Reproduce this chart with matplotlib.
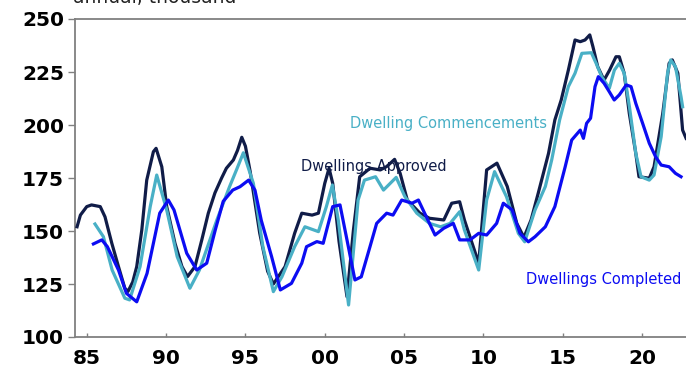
import matplotlib
matplotlib.use("Agg")
import matplotlib.pyplot as plt

# annual dwelling activity, thousand (year, value)
approved_years = [1984.39, 1984.6, 1985.0, 1985.3, 1985.85, 1986.15, 1986.58, 1987.0, 1987.4, 1987.6,
                  1987.9, 1988.15, 1988.47, 1988.78, 1989.2, 1989.37, 1989.73, 1990.04, 1990.56, 1991.0,
                  1991.35, 1991.82, 1992.25, 1992.66, 1993.08, 1993.5, 1993.8, 1994.24, 1994.5, 1994.77,
                  1995.0, 1995.3, 1995.9, 1996.4, 1996.76, 1997.5, 1998.1, 1998.55, 1999.2, 1999.6,
                  2000.0, 2000.27, 2000.5, 2000.9, 2001.4, 2001.8, 2002.2, 2002.85, 2003.5, 2003.9,
                  2004.4, 2004.75, 2005.2, 2006.0, 2006.6, 2007.5, 2008.0, 2008.5, 2008.8, 2009.7,
                  2010.2, 2010.85, 2011.5, 2012.1, 2012.55, 2013.0, 2013.45, 2014.1, 2014.5, 2014.9,
                  2015.35, 2015.77, 2016.1, 2016.4, 2016.7, 2016.9, 2017.2, 2017.6, 2017.95, 2018.35,
                  2018.56, 2018.87, 2019.19, 2019.6, 2019.8, 2020.45, 2020.75, 2021.3, 2021.7, 2021.9,
                  2022.25, 2022.55, 2022.77]
approved = [152.0, 157.5, 161.5, 162.3, 161.5, 156.7, 144.2, 133.2, 123.0, 121.5,
            126.0, 133.2, 150.5, 174.0, 187.4, 189.0, 180.3, 161.5, 144.2, 133.2,
            128.5, 133.2, 145.8, 158.4, 168.0, 175.0, 179.6, 183.5, 188.0, 194.2,
            190.0, 178.0, 149.0, 131.0, 125.0, 133.2, 148.9, 158.4, 157.5, 158.4,
            172.5, 179.6, 172.5, 145.0, 119.0, 150.0, 175.6, 179.6, 178.8, 180.4,
            183.8, 177.2, 164.6, 158.4, 156.0, 155.2, 163.1, 163.8, 155.2, 134.8,
            178.8, 182.0, 171.0, 153.6, 147.0, 155.2, 167.8, 186.6, 202.4, 211.8,
            225.9, 240.1, 239.3, 240.1, 242.5, 236.9, 227.5, 221.2, 225.9, 232.2,
            232.2, 224.4, 205.5, 186.6, 175.6, 174.9, 180.3, 205.5, 229.1, 230.7,
            224.4, 197.6, 193.7]

commence_years = [1985.52, 1986.05, 1986.6, 1987.4, 1987.7, 1988.36, 1989.0, 1989.41, 1990.04, 1990.7,
                  1991.5, 1992.1, 1993.2, 1994.0, 1994.5, 1994.87, 1995.5, 1996.1, 1996.76, 1997.3,
                  1998.1, 1998.75, 1999.6, 2000.1, 2000.48, 2000.85, 2001.5, 2002.1, 2002.5, 2003.2,
                  2003.7, 2004.5, 2005.05, 2005.8, 2006.6, 2007.3, 2007.9, 2008.5, 2008.8, 2009.7,
                  2010.2, 2010.7, 2011.45, 2012.2, 2012.6, 2013.25, 2013.9, 2014.3, 2014.8, 2015.35,
                  2015.77, 2016.2, 2016.8, 2017.1, 2017.45, 2017.93, 2018.25, 2018.56, 2018.87, 2019.2,
                  2019.6, 2019.93, 2020.45, 2020.75, 2021.2, 2021.6, 2021.8, 2022.1, 2022.45, 2022.55]
commence = [153.3, 147.3, 131.6, 118.3, 117.5, 133.2, 161.5, 176.4, 159.9, 137.9,
            123.0, 131.6, 155.2, 170.9, 180.0, 186.9, 172.5, 142.6, 121.4, 128.4,
            142.6, 152.0, 149.7, 161.5, 171.7, 155.2, 115.1, 164.6, 174.0, 175.6,
            169.3, 175.3, 166.2, 158.4, 153.6, 152.0, 153.6, 159.1, 150.5, 131.6,
            164.6, 178.0, 166.2, 148.9, 144.9, 159.9, 171.0, 183.5, 202.4, 218.1,
            224.4, 233.8, 234.1, 229.1, 222.8, 217.3, 225.9, 229.1, 224.4, 208.6,
            186.6, 175.6, 174.0, 176.4, 194.5, 224.4, 230.7, 227.5, 213.4, 208.6]

completed_years = [1985.42, 1985.95, 1986.3, 1987.0, 1987.5, 1988.15, 1988.8, 1989.6, 1990.14, 1990.5,
                   1991.3, 1991.93, 1992.56, 1993.1, 1993.6, 1994.2, 1994.66, 1995.2, 1995.6, 1996.0,
                   1996.65, 1997.2, 1997.9, 1998.55, 1998.85, 1999.5, 1999.9, 2000.5, 2000.96, 2001.4,
                   2001.9, 2002.3, 2002.85, 2003.27, 2003.9, 2004.3, 2004.85, 2005.5, 2005.9, 2006.4,
                   2006.95, 2007.5, 2008.1, 2008.5, 2009.15, 2009.7, 2010.2, 2010.83, 2011.25, 2011.8,
                   2012.3, 2012.83, 2013.25, 2013.9, 2014.5, 2015.15, 2015.56, 2016.1, 2016.3, 2016.5,
                   2016.75, 2017.03, 2017.24, 2017.6, 2017.93, 2018.24, 2018.56, 2019.0, 2019.3, 2019.6,
                   2020.03, 2020.45, 2020.85, 2021.2, 2021.7, 2022.1, 2022.45]
completed = [143.9, 145.8, 142.6, 131.6, 120.6, 116.6, 130.0, 158.4, 164.6, 159.9,
             139.5, 131.6, 134.8, 150.5, 164.0, 169.3, 170.9, 174.0, 169.3, 155.0,
             137.9, 122.2, 125.3, 134.8, 142.6, 145.0, 144.2, 161.5, 162.3, 145.8,
             126.9, 128.4, 142.6, 153.6, 158.4, 157.5, 164.6, 163.1, 164.6, 156.7,
             148.1, 151.3, 153.6, 145.8, 145.8, 148.9, 148.1, 153.6, 163.1, 160.0,
             148.9, 144.9, 147.3, 152.0, 161.5, 180.3, 192.9, 197.6, 193.7, 200.8,
             203.2, 218.1, 222.8, 219.7, 215.7, 211.8, 214.2, 218.9, 218.1, 210.2,
             200.8, 191.4, 185.0, 181.1, 180.3, 177.2, 175.6]

x_ticks = [1985, 1990, 1995, 2000, 2005, 2010, 2015, 2020]
x_labels = ["85", "90", "95", "00", "05", "10", "15", "20"]
y_ticks = [100, 125, 150, 175, 200, 225, 250]

navy = "#101c48"
teal = "#49b0c6"
blue = "#0c0cf2"

plt.rcParams["font.family"] = ["DejaVu Sans"]

fig = plt.figure(figsize=(6.86, 3.67), dpi=100)
W, H = 686.0, 367.0
ax = fig.add_axes([75 / W, 30 / H, 623 / W, 318 / H])

ax.plot(approved_years, approved, color=navy, lw=2.3, zorder=3)
ax.plot(commence_years, commence, color=teal, lw=2.3, zorder=4)
ax.plot(completed_years, completed, color=blue, lw=2.3, zorder=5)

ax.set_xlim(1984.26, 2023.52)
ax.set_ylim(100, 250)

ax.set_xticks(x_ticks)
ax.set_xticklabels(x_labels)
ax.set_yticks(y_ticks)

for side in ["left", "bottom", "top"]:
    ax.spines[side].set_color("#808080")
    ax.spines[side].set_linewidth(1.3)
ax.spines["right"].set_visible(False)

ax.tick_params(axis="y", direction="out", length=5, width=1, color="#808080",
               pad=3, labelsize=14.5)
ax.tick_params(axis="x", direction="in", length=3, width=1, color="#808080",
               pad=9, labelsize=14.5)
for lab in ax.get_xticklabels() + ax.get_yticklabels():
    lab.set_fontweight("bold")

# series labels
ax.text(2001.62, 200.5, "Dwelling Commencements", color=teal, fontsize=10.5,
        va="center", ha="left")
ax.text(1998.5, 180.2, "Dwellings Approved", color=navy, fontsize=10.5,
        va="center", ha="left")
ax.text(2012.7, 127.2, "Dwellings Completed", color=blue, fontsize=10.5,
        va="center", ha="left")

fig.text(73 / W, 1 - 3.3 / H, "annual, thousand", fontsize=13.5, color="#222222",
         ha="left", va="baseline")

fig.savefig("out.png", dpi=100)
